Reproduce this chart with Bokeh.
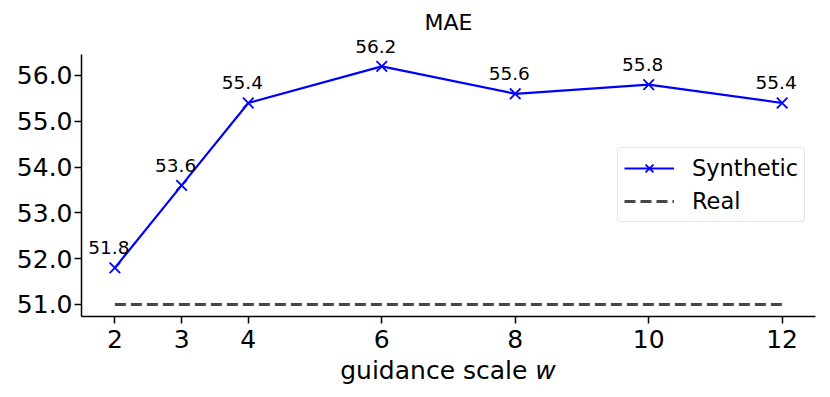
from bokeh.plotting import figure
from bokeh.models import (Range1d, FixedTicker, PrintfTickFormatter, Legend,
                          LegendItem, Label, ColumnDataSource, Div)
from bokeh.layouts import column
from bokeh.core.properties import value
from bokeh.embed import file_html
from bokeh.resources import INLINE

# ---- data ----
ws = [2, 3, 4, 6, 8, 10, 12]
synthetic_mae = [51.8, 53.6, 55.4, 56.2, 55.6, 55.8, 55.4]
real_ws = [2, 12]
real_mae = [51.0, 51.0]
y_ticks = [51, 52, 53, 54, 55, 56]
x_ticks = [2, 3, 4, 6, 8, 10, 12]
title_text = "MAE"
xlabel_main = "guidance scale"
xlabel_var = "w"

FONT = "DejaVu Sans"
BLUE = "#0000ff"
GRAY = "#474747"

Y_LO, Y_HI = 50.738, 56.46
p = figure(frame_width=734, frame_height=311,
           min_border_left=81, min_border_right=7,
           min_border_top=5, min_border_bottom=45,
           x_range=Range1d(1.5, 12.5), y_range=Range1d(Y_LO, 57.528),
           output_backend="svg", toolbar_location=None)

p.background_fill_color = "white"
p.border_fill_color = "white"
p.outline_line_color = None
p.xgrid.visible = False
p.ygrid.visible = False

for ax in (p.xaxis[0], p.yaxis[0]):
    ax.axis_line_color = "black"
    ax.axis_line_width = 1.5
    ax.major_tick_line_color = "black"
    ax.major_tick_line_width = 1.5
    ax.major_tick_out = 7
    ax.major_tick_in = 0
    ax.minor_tick_line_color = None
    ax.major_label_text_font = FONT
    ax.major_label_text_font_size = "25px"
    ax.major_label_text_color = "black"

p.xaxis[0].ticker = FixedTicker(ticks=x_ticks)
p.xaxis[0].major_label_standoff = 6
p.yaxis[0].ticker = FixedTicker(ticks=y_ticks)
p.yaxis[0].formatter = PrintfTickFormatter(format="%.1f")
p.yaxis[0].major_label_standoff = 2
p.yaxis[0].bounds = (Y_LO, Y_HI)

# title
p.add_layout(Label(x=367, y=294, x_units="screen", y_units="screen",
                   text=title_text, text_font=FONT, text_font_size="22px",
                   text_align="center", text_baseline="alphabetic",
                   text_color="black"))

# data
src = ColumnDataSource(dict(x=ws, y=synthetic_mae,
                            lbl=["%.1f" % v for v in synthetic_mae]))
real_src = ColumnDataSource(dict(x=real_ws, y=real_mae))

l_syn = p.line("x", "y", source=src, line_color=BLUE, line_width=2.2)
m_syn = p.scatter("x", "y", source=src, marker="x", size=15,
                  line_color=BLUE, line_width=1.8)
l_real = p.line("x", "y", source=real_src, line_color=GRAY, line_width=3,
                line_dash="11 5")

p.text("x", "y", text="lbl", source=src, text_font=value(FONT),
       text_font_size="18.5px", text_color="black", text_align="center",
       text_baseline="alphabetic", x_offset=-6, y_offset=-20)

legend = Legend(items=[LegendItem(label="Synthetic", renderers=[l_syn, m_syn]),
                       LegendItem(label="Real", renderers=[l_real])],
                location=(536, 94),
                padding=6, spacing=5, label_height=28, glyph_height=28,
                glyph_width=50, label_standoff=18,
                label_text_font=FONT, label_text_font_size="22.5px",
                label_text_color="black",
                border_line_color="#cccccc", border_line_width=1.5,
                background_fill_color="white", background_fill_alpha=0.8)
if "border_radius" in Legend.properties():
    legend.border_radius = 4
p.add_layout(legend, "center")

xlabel = Div(
    text=('<div style="width:734px;margin-left:81px;text-align:center;'
          "font-family:'DejaVu Sans';font-size:25px;line-height:25px;"
          'color:black;white-space:nowrap;position:relative;top:-3px;">'
          + xlabel_main + ' <i>' + xlabel_var + '</i></div>'),
    width=822, height=36, margin=0)

layout = column(p, xlabel, spacing=0)

with open("out.html", "w") as f:
    f.write(file_html(layout, INLINE))
